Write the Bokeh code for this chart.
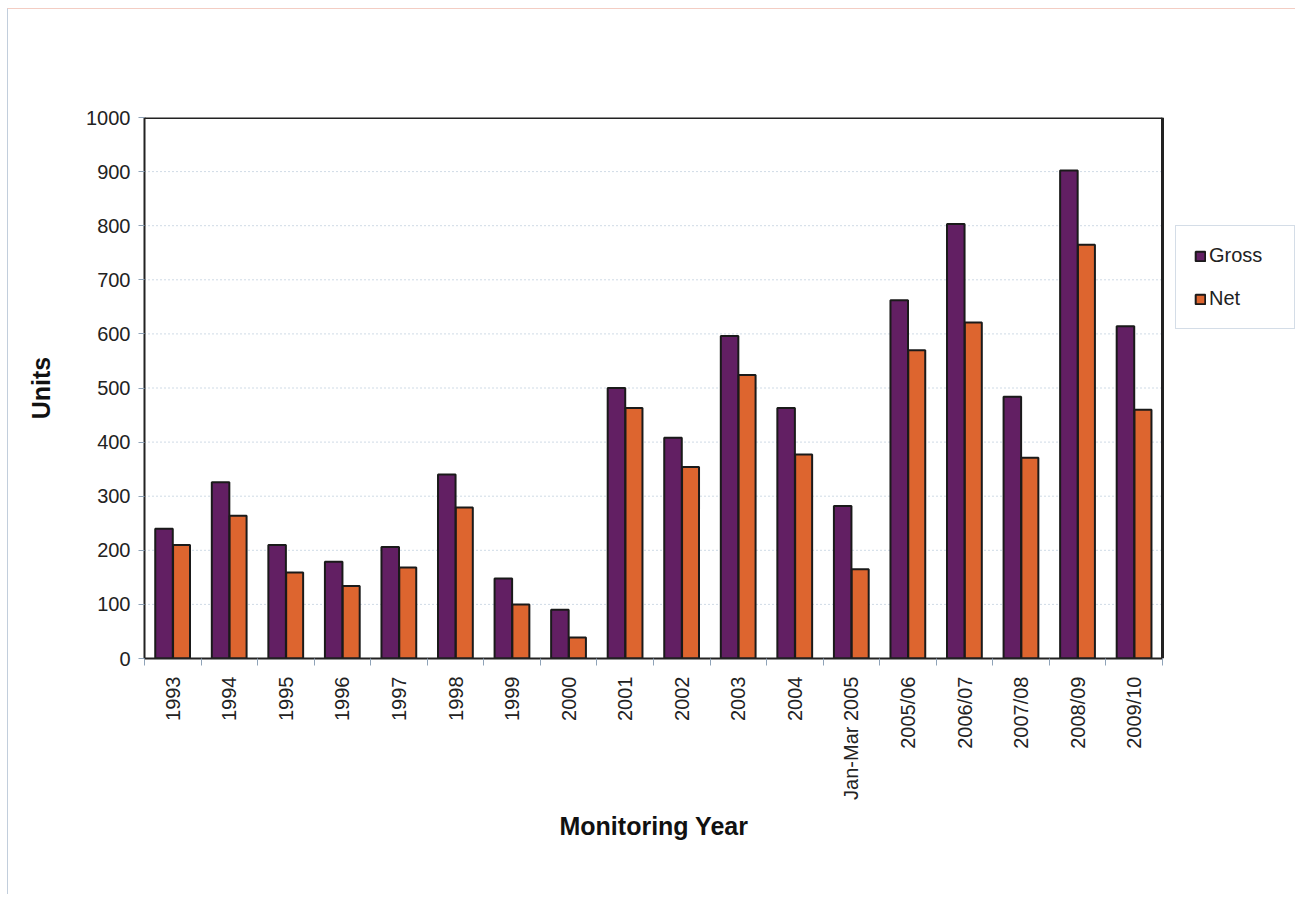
import numpy as np
from bokeh.plotting import figure
from bokeh.models import ColumnDataSource, FixedTicker, Legend, LegendItem, Range1d, Title
from bokeh.transform import dodge
from bokeh.embed import file_html
from bokeh.resources import INLINE

categories = ["1993", "1994", "1995", "1996", "1997", "1998", "1999", "2000",
              "2001", "2002", "2003", "2004", "Jan-Mar 2005", "2005/06",
              "2006/07", "2007/08", "2008/09", "2009/10"]
gross = [240, 326, 210, 179, 206, 340, 148, 90, 500, 408, 596, 463, 282,
         662, 803, 484, 902, 614]
net = [210, 264, 159, 134, 168, 279, 100, 39, 463, 354, 524, 377, 165,
       570, 621, 371, 765, 460]
y_ticks = [0, 100, 200, 300, 400, 500, 600, 700, 800, 900, 1000]

FONT = "Liberation Sans"
TXT = "#222222"
n = len(categories)
idx = list(range(n))
src = ColumnDataSource(dict(x=idx, gross=gross, net=net, cat=categories))

# layout (pixels)
W, H = 1288, 886
LEFT, TOP = 136, 108
PLOT_W, PLOT_H = 1018, 541       # visible plot-area box
frame_w = W - LEFT               # frame extends to the right edge (legend lives there)
x_end = -0.5 + n * frame_w / PLOT_W

p = figure(width=W, height=H, output_backend="svg", toolbar_location=None,
           x_range=Range1d(-0.5, x_end), y_range=Range1d(0, 1000),
           min_border_left=LEFT, min_border_right=0, min_border_top=TOP,
           min_border_bottom=H - TOP - PLOT_H, background_fill_color="white",
           border_fill_color="white")
p.styles = {"margin-left": "7px", "margin-top": "8px",
            "border-top": "1px solid #f3cdc3", "border-left": "1px solid #c2cedc"}
p.outline_line_color = None

# dotted gridlines across the plot area only
grid_y = y_ticks[1:-1]
p.segment(x0=[-0.5] * len(grid_y), x1=[n - 0.5] * len(grid_y), y0=grid_y, y1=grid_y,
          line_color="#9fb6cc", line_dash="1 3", line_width=1)

r1 = p.vbar(x=dodge("x", -0.155), top="gross", width=0.31, source=src,
            fill_color="#621f63", line_color="#1a1a1a", line_width=2)
r2 = p.vbar(x=dodge("x", 0.155), top="net", width=0.30, source=src,
            fill_color="#dd652f", line_color="#1a1a1a", line_width=2)

# plot-area box: top and right edges
p.segment(x0=[-0.5, n - 0.5], x1=[n - 0.5, n - 0.5], y0=[y_ticks[-1], 0],
          y1=[y_ticks[-1], y_ticks[-1]], line_color="#222222", line_width=3)

# x axis
xa = p.xaxis[0]
xa.bounds = (-0.5, n - 0.5)
xa.ticker = FixedTicker(ticks=idx, minor_ticks=[i - 0.5 for i in range(n + 1)])
xa.major_label_overrides = {i: c for i, c in zip(idx, categories)}
xa.major_label_orientation = np.pi / 2
xa.major_tick_out = 0
xa.major_tick_in = 0
xa.minor_tick_out = 7
xa.minor_tick_in = 0
xa.minor_tick_line_color = "#8fa3b8"
xa.major_label_standoff = 11
xa.major_label_text_font = FONT
xa.major_label_text_font_size = "20px"
xa.major_label_text_color = TXT
xa.axis_line_color = "#222222"
xa.axis_line_width = 2

# x-axis title, centred under the visible plot area
xtitle = Title(text="Monitoring Year", align="left", offset=415, standoff=15,
               text_font=FONT, text_font_style="bold", text_font_size="25px",
               text_color="#111111")
p.add_layout(xtitle, "below")

# y axis
ya = p.yaxis[0]
ya.ticker = FixedTicker(ticks=y_ticks)
ya.major_tick_out = 6
ya.major_tick_in = 0
ya.minor_tick_out = 0
ya.minor_tick_in = 0
ya.major_tick_line_color = "#8fa3b8"
ya.major_label_standoff = 8
ya.major_label_text_font = FONT
ya.major_label_text_font_size = "20px"
ya.major_label_text_color = TXT
ya.axis_line_color = "#222222"
ya.axis_line_width = 2
ya.axis_label = "Units"
ya.axis_label_text_font = FONT
ya.axis_label_text_font_style = "bold"
ya.axis_label_text_font_size = "25px"
ya.axis_label_text_color = "#111111"
ya.axis_label_standoff = 28

p.xgrid.grid_line_color = None
p.ygrid.grid_line_color = None

# legend: left edge 13px right of the plot-area box, bottom 329px above the x axis
legend = Legend(items=[LegendItem(label="Gross", renderers=[r1]),
                       LegendItem(label="Net", renderers=[r2])],
                location=(PLOT_W + 13, 329), orientation="vertical",
                glyph_width=12, glyph_height=12, label_height=20,
                label_width=67, label_standoff=3, padding=18, spacing=20,
                margin=0, border_line_color="#a9bccf", border_line_width=1,
                background_fill_color="white", background_fill_alpha=1.0,
                label_text_font=FONT, label_text_font_size="20px",
                label_text_color=TXT)
p.add_layout(legend, "center")

open("out.html", "w").write(file_html(p, INLINE))
